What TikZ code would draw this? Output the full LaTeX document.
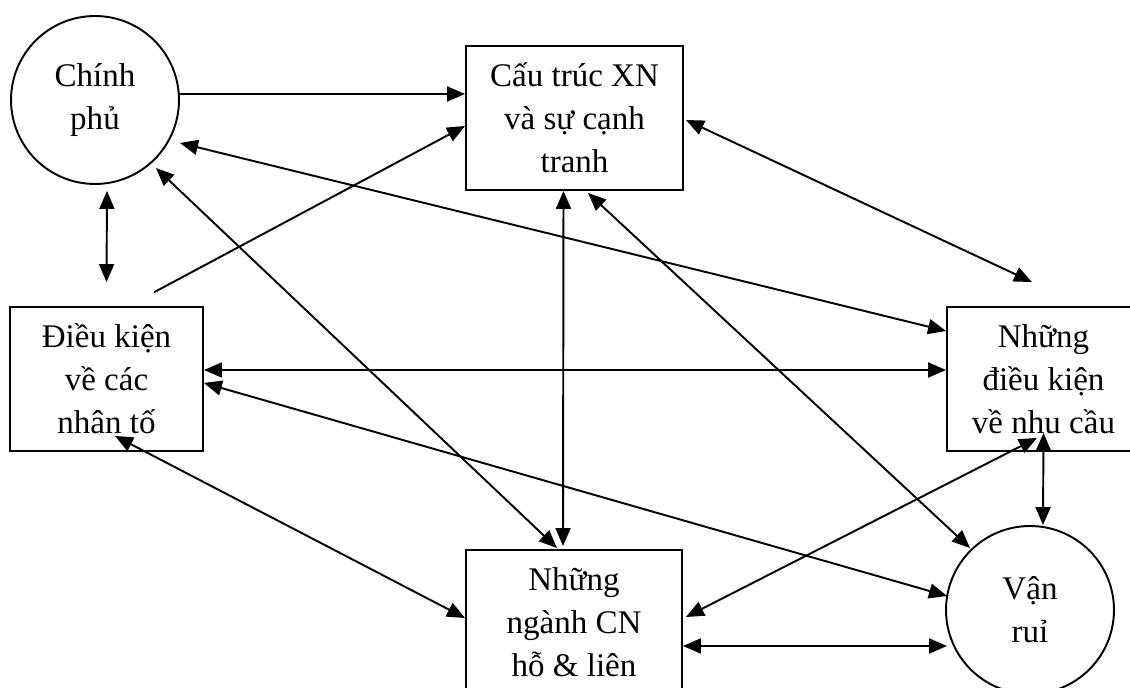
\documentclass[tikz,border=0pt]{standalone}
\usepackage{fontspec}
\setmainfont{Liberation Serif}
\usetikzlibrary{arrows.meta,calc}

\begin{document}
\begin{tikzpicture}[x=0.02cm,y=-0.02cm,>={Triangle[length=3.6mm,width=3.0mm]},
  font=\fontsize{18.8}{24.4}\selectfont,line width=1.1pt,line cap=round,
  boxnode/.style={draw,rectangle,minimum height=2.88cm,align=center,inner sep=0pt},
  roundnode/.style={draw,circle,minimum size=3.36cm,align=center,inner sep=0pt}]
\useasboundingbox (0,0) rectangle (1130,688);
\clip (0,0) rectangle (1130,688);
\node[roundnode] (chinhphu) at (95,100) {Chính\\phủ};
\node[boxnode,minimum width=4.34cm] (cautruc) at (574.5,118) {Cấu trúc XN\\và sự cạnh\\tranh};
\node[boxnode,minimum width=3.86cm] (dieukien) at (106.5,379) {Điều kiện\\về các\\nhân tố};
\node[boxnode,minimum width=3.86cm] (nhucau) at (1043.5,379) {Những\\điều kiện\\về nhu cầu};
\node[boxnode,minimum width=4.32cm] (nganh) at (574,622) {Những\\ngành CN\\hỗ \& liên};
\node[roundnode] (vanrui) at (1030,610) {Vận\\ruỉ};
% one-way arrows into the box at the top
\draw[->] ($(chinhphu)+(84,-6)$) -- ($(cautruc.west)+(0,-24)$);
\draw[->] ($(dieukien.north)+(48,-14)$) -- ($(cautruc.west)+(0,8)$);
% two-way arrows
\draw[<->] ($(chinhphu.south)+(12,6)$) -- ($(dieukien.north)+(0,-24)$);
\draw[<->] ($(chinhphu)+(85,43)$) -- ($(nhucau.west)+(0,-48)$);
\draw[<->] ($(chinhphu)+(61,68)$) -- ($(nganh.north)+(-17,-1)$);
\draw[<->] ($(cautruc.south)+(-11,0)$) -- ($(nganh.north)+(-11,-3)$);
\draw[<->] ($(cautruc.south)+(13.5,2)$) -- ($(vanrui)+(-60,-62)$);
\draw[<->] ($(cautruc.east)+(2,2)$) -- ($(nhucau.north)+(-11.5,-24)$);
\draw[<->] ($(dieukien.east)+(0,-9)$) -- ($(nhucau.west)+(0,-9)$);
\draw[<->] ($(dieukien.east)+(0,4)$) -- ($(vanrui)+(-83,-14)$);
\draw[<->] ($(dieukien.south)+(8.5,-16)$) -- ($(nganh.west)+(0,-4)$);
\draw[<->] ($(nganh.east)+(3,-5)$) -- ($(nhucau.south)+(-6.5,-14)$);
\draw[<->] ($(nganh.east)+(0,24)$) -- ($(vanrui)+(-83,36)$);
\draw[<->] ($(nhucau.south)+(0,-19)$) -- ($(vanrui.north)+(13,0)$);
\end{tikzpicture}
\end{document}
